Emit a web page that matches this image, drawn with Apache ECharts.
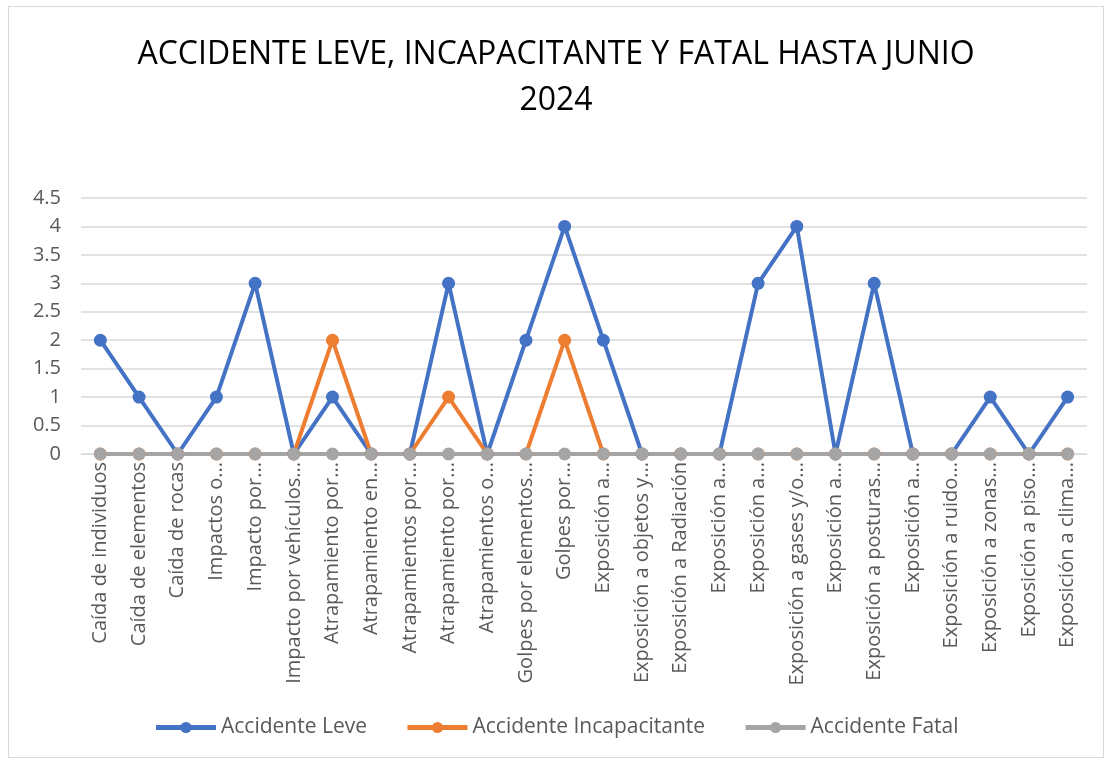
<!DOCTYPE html>
<html>
<head>
<meta charset="utf-8">
<script src="https://cdn.jsdelivr.net/npm/echarts@6/dist/echarts.min.js"></script>
<style>
    html, body { margin: 0; padding: 0; background: #fff; }
    #chart { position: absolute; left: 8px; top: 6px; width: 1096px; height: 752px; border: 1px solid #d9d9d9; box-sizing: border-box; }
</style>
</head>
<body>
<div id="chart"></div>
<script>
const categories = [
    "Caída de individuos", "Caída de elementos", "Caída de rocas", "Impactos o...",
    "Impacto por...", "Impacto por vehículos...", "Atrapamiento por...", "Atrapamiento en...",
    "Atrapamientos por...", "Atrapamiento por...", "Atrapamientos o...", "Golpes por elementos...",
    "Golpes por...", "Exposición a...", "Exposición a objetos y...", "Exposición a Radiación",
    "Exposición a...", "Exposición a...", "Exposición a gases y/o...", "Exposición a...",
    "Exposición a posturas...", "Exposición a...", "Exposición a ruido...", "Exposición a zonas...",
    "Exposición a piso...", "Exposición a clima..."
];
const leve = [2, 1, 0, 1, 3, 0, 1, 0, 0, 3, 0, 2, 4, 2, 0, 0, 0, 3, 4, 0, 3, 0, 0, 1, 0, 1];
const incapacitante = [0, 0, 0, 0, 0, 0, 2, 0, 0, 1, 0, 0, 2, 0, 0, 0, 0, 0, 0, 0, 0, 0, 0, 0, 0, 0];
const fatal = [0, 0, 0, 0, 0, 0, 0, 0, 0, 0, 0, 0, 0, 0, 0, 0, 0, 0, 0, 0, 0, 0, 0, 0, 0, 0];

const fontFamily = "'Open Sans', 'Noto Sans', sans-serif";
const textColor = "#595959";

const chart = echarts.init(document.getElementById("chart"));

function lineSeries(name, data, color) {
    return {
        name: name,
        type: "line",
        data: data,
        symbol: "circle",
        symbolSize: 13,
        lineStyle: { width: 4, color: color },
        itemStyle: { color: color },
        animation: false
    };
}

chart.setOption({
    backgroundColor: "#fff",
    title: {
        text: "ACCIDENTE LEVE, INCAPACITANTE Y FATAL HASTA JUNIO\n2024",
        left: "center",
        top: 20,
        textStyle: {
            fontFamily: fontFamily,
            fontSize: 32,
            fontWeight: "normal",
            color: "#000",
            lineHeight: 46
        }
    },
    legend: {
        bottom: 14,
        left: "center",
        itemWidth: 60,
        itemHeight: 14,
        itemGap: 38,
        lineStyle: { width: 5 },
        textStyle: { fontFamily: fontFamily, fontSize: 21, color: textColor },
        data: ["Accidente Leve", "Accidente Incapacitante", "Accidente Fatal"]
    },
    grid: {
        left: 72,
        right: 16,
        top: 191,
        bottom: 303
    },
    xAxis: {
        type: "category",
        data: categories,
        boundaryGap: true,
        axisLine: { lineStyle: { color: "#d9d9d9", width: 1 } },
        axisTick: { show: false },
        axisLabel: {
            rotate: 90,
            interval: 0,
            margin: 8,
            fontFamily: fontFamily,
            fontSize: 20,
            color: textColor
        }
    },
    yAxis: {
        type: "value",
        min: 0,
        max: 4.5,
        interval: 0.5,
        axisLine: { show: false },
        axisTick: { show: false },
        axisLabel: {
            fontFamily: fontFamily,
            fontSize: 20,
            color: textColor,
            margin: 20
        },
        splitLine: { lineStyle: { color: "#d9d9d9", width: 1.5 } }
    },
    series: [
        lineSeries("Accidente Leve", leve, "#4472c4"),
        lineSeries("Accidente Incapacitante", incapacitante, "#ed7d31"),
        lineSeries("Accidente Fatal", fatal, "#a5a5a5")
    ]
});
</script>
</body>
</html>
